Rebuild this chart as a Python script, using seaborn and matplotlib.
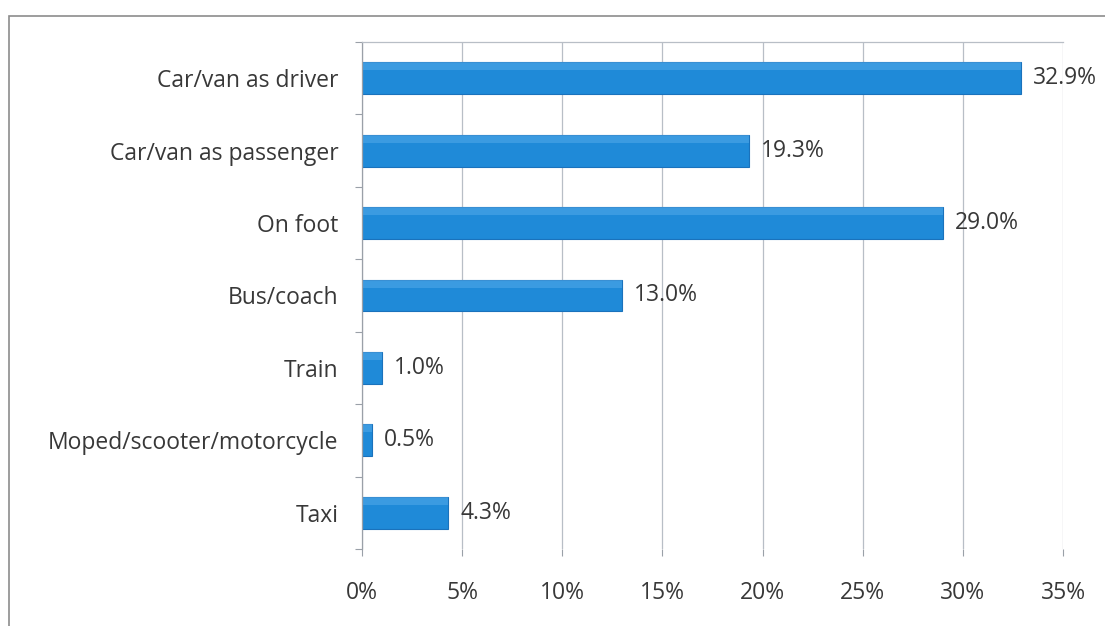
import matplotlib
matplotlib.use("Agg")
import matplotlib.pyplot as plt
from matplotlib.patches import Rectangle
from matplotlib.ticker import FixedLocator
import seaborn as sns
import pandas as pd

modes = ["Car/van as driver", "Car/van as passenger", "On foot", "Bus/coach",
         "Train", "Moped/scooter/motorcycle", "Taxi"]
shares = [32.9, 19.3, 29.0, 13.0, 1.0, 0.5, 4.3]
x_ticks = [0, 5, 10, 15, 20, 25, 30, 35]

df = pd.DataFrame({"mode": modes, "share": shares})

sns.set_theme(style="white")
plt.rcParams["font.family"] = ["Open Sans", "DejaVu Sans"]

FS = 16.5
TXT = "#383838"

fig = plt.figure(figsize=(11.05, 6.26), dpi=100)
ax = fig.add_axes([0.3276, 0.123, 0.6344, 0.8100])

sns.barplot(data=df, x="share", y="mode", orient="h", color="#1F8AD8",
            width=0.44, edgecolor="#1A72BC", linewidth=0.8, saturation=1,
            ax=ax)

# soft highlight along the top of each bar
for patch in ax.patches:
    x0, y0 = patch.get_x(), patch.get_y()
    w, h = patch.get_width(), patch.get_height()
    ax.add_patch(Rectangle((x0, y0), w, h * 0.25, facecolor="#58ACEA",
                           edgecolor="none", alpha=0.5,
                           zorder=patch.get_zorder() + 0.1))

for i, v in enumerate(shares):
    ax.text(v + 0.6, i, f"{v:.1f}%", va="center", ha="left",
            fontsize=FS, color=TXT)

ax.set_xlim(0, 35)
ax.set_ylim(6.5, -0.5)
ax.set_xticks(x_ticks)
ax.set_xticklabels([f"{t}%" for t in x_ticks])
ax.xaxis.grid(True, color="#B8BEC6", linewidth=0.9)
ax.set_axisbelow(True)
ax.set_xlabel("")
ax.set_ylabel("")

ax.tick_params(axis="x", which="major", length=5, width=0.8, color="#9AA0A8",
               pad=18, labelsize=FS, labelcolor=TXT, bottom=True)
ax.tick_params(axis="y", which="major", length=0, pad=17, labelsize=FS,
               labelcolor=TXT)
ax.yaxis.set_minor_locator(FixedLocator([-0.5 + k for k in range(8)]))
ax.tick_params(axis="y", which="minor", length=5, width=0.8, color="#9AA0A8",
               left=True)

for side in ["right", "bottom"]:
    ax.spines[side].set_visible(False)
ax.spines["left"].set_color("#9AA0A8")
ax.spines["top"].set_color("#B8BEC6")
ax.spines["left"].set_linewidth(0.9)
ax.spines["top"].set_linewidth(0.9)

# chart frame
fig.patches.append(Rectangle((9 / 1105, -0.05), 1.2, 1 - 16 / 626 + 0.05,
                             transform=fig.transFigure, fill=False,
                             edgecolor="#8C8C8C", linewidth=1.2))

fig.savefig("out.png", dpi=100, facecolor="white")
